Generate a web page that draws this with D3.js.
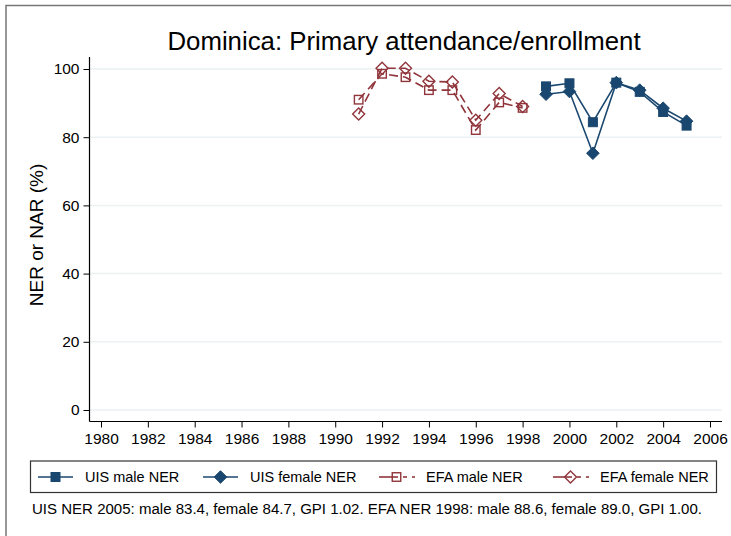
<!DOCTYPE html>
<html><head><meta charset="utf-8">
<script src="https://cdn.jsdelivr.net/npm/d3@7"></script>
<style>body{margin:0;background:#fff}svg{display:block;font-family:"Liberation Sans",Arial,sans-serif}</style>
</head><body>
<svg id="c" width="731" height="536"></svg>
<script>
const titleText = "Dominica: Primary attendance/enrollment";
const yLabel = "NER or NAR (%)";
const footnote = "UIS NER 2005: male 83.4, female 84.7, GPI 1.02. EFA NER 1998: male 88.6, female 89.0, GPI 1.00.";
const xTicks = [1980,1982,1984,1986,1988,1990,1992,1994,1996,1998,2000,2002,2004,2006];
const yTicks = [0,20,40,60,80,100];

const uisYears = [1999,2000,2001,2002,2003,2004,2005];
const uisMale =   [94.9,95.8,84.4,96.0,93.3,87.4,83.4];
const uisFemale = [92.6,93.4,75.3,96.0,93.8,88.5,84.7];
const efaYears = [1991,1992,1993,1994,1995,1996,1997,1998];
const efaMale =   [91.0,98.6,97.6,93.8,93.8,82.1,90.2,88.6];
const efaFemale = [86.8,100.2,100.2,96.4,96.2,85.0,92.8,89.0];

const navy = "#1a476f", maroon = "#90353b";
const series = [
  {name:"UIS male NER", years:uisYears, vals:uisMale, color:navy, shape:"square", fill:true, dash:null},
  {name:"UIS female NER", years:uisYears, vals:uisFemale, color:navy, shape:"diamond", fill:true, dash:null},
  {name:"EFA male NER", years:efaYears, vals:efaMale, color:maroon, shape:"square", fill:false, dash:"9,5"},
  {name:"EFA female NER", years:efaYears, vals:efaFemale, color:maroon, shape:"diamond", fill:false, dash:"9,5"}
];

const svg = d3.select("#c");
svg.append("rect").attr("x",6).attr("y",5.5).attr("width",740).attr("height",560)
  .attr("fill","none").attr("stroke","#777").attr("stroke-width",1.5);

const L=89.5, R=722, T=57, B=421.5;
const x = d3.scaleLinear().domain([1980,2006]).range([101,710]);
const y = d3.scaleLinear().domain([0,100]).range([410,69]);

svg.append("g").selectAll("line").data(yTicks).join("line")
  .attr("x1",L).attr("x2",R).attr("y1",d=>y(d)).attr("y2",d=>y(d))
  .attr("stroke","#eaf2f3").attr("stroke-width",1.5);

const gy = svg.append("g").attr("transform",`translate(${L},0)`)
  .call(d3.axisLeft(y).tickValues(yTicks).tickSize(6).tickPadding(4).tickSizeOuter(0));
const gx = svg.append("g").attr("transform",`translate(0,${B})`)
  .call(d3.axisBottom(x).tickValues(xTicks).tickFormat(d3.format("d")).tickSize(6).tickPadding(5).tickSizeOuter(0));
[gy,gx].forEach(g=>{
  g.selectAll("text").attr("font-size","15.5px").attr("fill","#000").attr("font-family","'Liberation Sans',Arial,sans-serif");
  g.selectAll("line").attr("stroke","#000");
  g.select(".domain").remove();
});
svg.append("line").attr("x1",L).attr("x2",L).attr("y1",T).attr("y2",B).attr("stroke","#000").attr("stroke-width",1.2);
svg.append("line").attr("x1",L).attr("x2",R).attr("y1",B).attr("y2",B).attr("stroke","#000").attr("stroke-width",1.2);

svg.append("text").attr("x",404).attr("y",50).attr("text-anchor","middle")
  .attr("font-size","25.8px").attr("fill","#000").text(titleText);
svg.append("text").attr("transform","translate(43,235) rotate(-90)").attr("text-anchor","middle")
  .attr("font-size","19px").attr("fill","#000").text(yLabel);

function marker(sel, shape, cx, cy, color, fill){
  if(shape==="square"){
    const s = fill?9:8.5;
    sel.append("rect").attr("x",cx-s/2).attr("y",cy-s/2).attr("width",s).attr("height",s)
      .attr("fill",fill?color:"none").attr("stroke",color).attr("stroke-width",fill?1:1.4);
  } else {
    const r = fill?6.3:6;
    sel.append("path").attr("d",`M${cx},${cy-r}L${cx+r},${cy}L${cx},${cy+r}L${cx-r},${cy}Z`)
      .attr("fill",fill?color:"none").attr("stroke",color).attr("stroke-width",fill?1:1.4);
  }
}

const line = d3.line().x(d=>x(d[0])).y(d=>y(d[1]));
series.forEach(s=>{
  const pts = s.years.map((yr,i)=>[yr,s.vals[i]]);
  svg.append("path").datum(pts).attr("d",line).attr("fill","none").attr("stroke",s.color)
    .attr("stroke-width",1.6).attr("stroke-dasharray",s.dash);
  const g = svg.append("g");
  pts.forEach(p=>marker(g,s.shape,x(p[0]),y(p[1]),s.color,s.fill));
});

svg.append("rect").attr("x",30.5).attr("y",461).attr("width",686).attr("height",31.5)
  .attr("fill","#fff").attr("stroke","#333").attr("stroke-width",1.2);
const legX = [38,203,379,553];
series.forEach((s,i)=>{
  const lx = legX[i], ly = 477;
  const g = svg.append("g");
  if(s.dash){
    g.append("line").attr("x1",lx).attr("x2",lx+19).attr("y1",ly).attr("y2",ly).attr("stroke",s.color).attr("stroke-width",1.6);
    g.append("line").attr("x1",lx+24).attr("x2",lx+28).attr("y1",ly).attr("y2",ly).attr("stroke",s.color).attr("stroke-width",1.6);
    g.append("line").attr("x1",lx+33).attr("x2",lx+36).attr("y1",ly).attr("y2",ly).attr("stroke",s.color).attr("stroke-width",1.6);
  } else {
    g.append("line").attr("x1",lx).attr("x2",lx+35).attr("y1",ly).attr("y2",ly).attr("stroke",s.color).attr("stroke-width",1.6);
  }
  marker(g,s.shape,lx+17.5,ly,s.color,s.fill);
  g.append("text").attr("x",lx+47).attr("y",ly+5).attr("font-size","14.5px").attr("fill","#000").text(s.name);
});

svg.append("text").attr("x",32).attr("y",514).attr("font-size","14px")
  .attr("textLength",670).attr("lengthAdjust","spacingAndGlyphs").attr("fill","#000").text(footnote);
</script>
</body></html>
